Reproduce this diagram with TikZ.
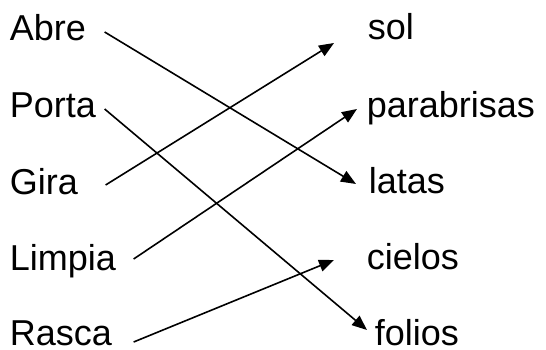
\documentclass[tikz,border=0pt]{standalone}
\usepackage{fontspec}
\setmainfont{Liberation Sans}
\usetikzlibrary{arrows.meta}

\begin{document}
\begin{tikzpicture}[
                        x=1pt,
                        y=-1pt,
                        ->,
                        >={Triangle[length=15pt,width=12pt]},
                        line width=1.6pt
                    ]
                    \tikzstyle{word}=[inner sep=0pt,anchor=base west,text height=26pt,text depth=8pt,
                                      font=\fontsize{36}{40}\selectfont]

                    \useasboundingbox (0,0) rectangle (546,350);

                    \node[word] (Abre)       at (9,41)    {Abre} ;
                    \node[word] (Porta)      at (9,118)   {Porta} ;
                    \node[word] (Gira)       at (9,194)   {Gira} ;
                    \node[word] (Limpia)     at (9,270)   {Limpia} ;
                    \node[word] (Rasca)      at (9,345)   {Rasca} ;

                    \node[word] (sol)        at (367,40)  {sol} ;
                    \node[word] (parabrisas) at (366,118) {parabrisas} ;
                    \node[word] (latas)      at (368,193) {latas} ;
                    \node[word] (cielos)     at (366,269) {cielos} ;
                    \node[word] (folios)     at (374,345) {folios} ;

                    \path
                    ([xshift=18pt]Abre.east)               edge ([xshift=-12pt]latas.west)
                    ([xshift=8pt]Porta.east)               edge ([xshift=-7pt,yshift=6pt]folios.west)
                    ([xshift=27pt]Gira.east)               edge ([xshift=-33pt,yshift=-12pt]sol.west)
                    ([xshift=17pt,yshift=2pt]Limpia.east)  edge ([xshift=-9pt]parabrisas.west)
                    ([xshift=21pt,yshift=-6pt]Rasca.east)  edge ([xshift=-32pt]cielos.west) ;

                \end{tikzpicture}
\end{document}
